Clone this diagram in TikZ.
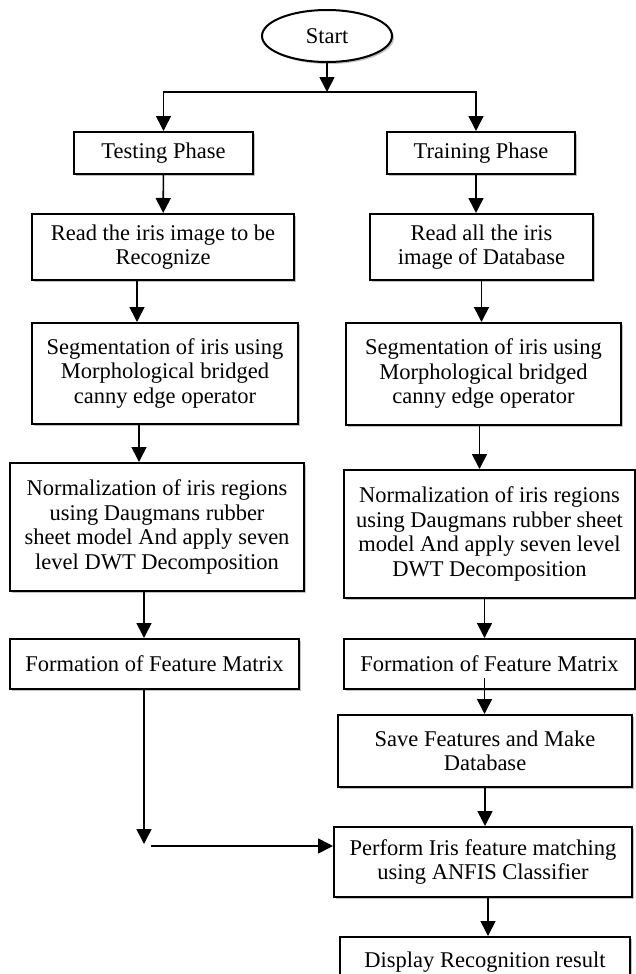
\documentclass[tikz,border=0pt]{standalone}
\usepackage{fontspec}
\setmainfont{Liberation Serif}
\usetikzlibrary{shapes.geometric,arrows.meta,shadows}

\begin{document}
\begin{tikzpicture}[x=1pt,y=-1pt,
    box/.style={draw,line width=2pt,fill=white,align=center,inner sep=0pt,
      font=\fontsize{22.5}{24.5}\selectfont,
      drop shadow={shadow xshift=2pt,shadow yshift=-2pt,fill=black!40,opacity=0.6}},
    arr/.style={line width=1.6pt,-{Triangle[width=15pt,length=15pt]}}]
  \useasboundingbox (0,0) rectangle (635,974);
  %% Start and the two phases
  \node[box,ellipse,minimum width=130pt,minimum height=52pt] (start) at (327,36) {Start};
  \node[box,minimum width=179pt,minimum height=42pt] (testing) at (163.5,153) {Testing Phase};
  \node[box,minimum width=188pt,minimum height=42pt] (training) at (481,153) {Training Phase};
  %% Left column
  \node[box,minimum width=262pt,minimum height=66pt] (readL) at (163,247) {Read the iris image to be\\Recognize};
  \node[box,minimum width=266pt,minimum height=101pt] (segL) at (165,373.5) {Segmentation of iris using\\Morphological bridged\\canny edge operator};
  \node[box,minimum width=294pt,minimum height=128pt] (normL) at (157,527) {Normalization of iris regions\\using Daugmans rubber\\sheet model And apply seven\\level DWT Decomposition};
  \node[box,minimum width=289pt,minimum height=50pt] (formL) at (154.5,664) {Formation of Feature Matrix};
  %% Right column
  \node[box,minimum width=223pt,minimum height=66pt] (readR) at (481.5,247) {Read all the iris\\image of Database};
  \node[box,minimum width=275pt,minimum height=102pt] (segR) at (483.5,374) {Segmentation of iris using\\Morphological bridged\\canny edge operator};
  \node[box,minimum width=291pt,minimum height=128pt] (normR) at (489.5,534) {Normalization of iris regions\\using Daugmans rubber sheet\\model And apply seven level\\DWT Decomposition};
  \node[box,minimum width=291pt,minimum height=50pt] (formR) at (489.5,664) {Formation of Feature Matrix};
  \node[box,minimum width=294pt,minimum height=72pt] (save) at (485,751) {Save Features and Make\\Database};
  \node[box,minimum width=298pt,minimum height=70pt] (match) at (483,862) {Perform Iris feature matching\\using ANFIS Classifier};
  \node[box,minimum width=290pt,minimum height=50pt] (result) at (485,962) {Display Recognition result};

  %% Arrows
  \coordinate (split) at (327,92);
  \draw[arr] (start) -- (split);
  \draw[arr] (split) -| (testing);
  \draw[arr] (split) -| ([xshift=-5pt]training.north);
  \draw[arr] (testing) -- (readL);
  \draw[arr] ([xshift=-5pt]training.south) -- ([xshift=-5pt]training.south |- readR.north);
  \draw[arr] ([xshift=-26pt]readL.south) -- ([xshift=-26pt]readL.south |- segL.north);
  \draw[arr] (readR.south) -- (readR.south |- segR.north);
  \draw[arr] ([xshift=-26pt]segL.south) -- ([xshift=-26pt]segL.south |- normL.north);
  \draw[arr] ([xshift=-4pt]segR.south) -- ([xshift=-4pt]segR.south |- normR.north);
  \draw[arr] ([xshift=-13pt]normL.south) -- ([xshift=-13pt]normL.south |- formL.north);
  \draw[arr] ([xshift=-5pt]normR.south) -- ([xshift=-5pt]normR.south |- formR.north);
  \draw[arr] ([xshift=-5pt,yshift=12pt]formR.south) -- ([xshift=-5pt]formR.south |- save.north);
  \draw[arr] (save.south) -- (save.south |- match.north);
  \draw[arr] ([xshift=5pt]match.south) -- ([xshift=5pt]match.south |- result.north);
  %% testing result joins the matcher
  \coordinate (drop) at (144,844);
  \coordinate (join) at (151,846);
  \draw[arr] ([xshift=-10.5pt]formL.south) -- (drop);
  \draw[arr] (join) -- (join -| match.west);
\end{tikzpicture}
\end{document}
